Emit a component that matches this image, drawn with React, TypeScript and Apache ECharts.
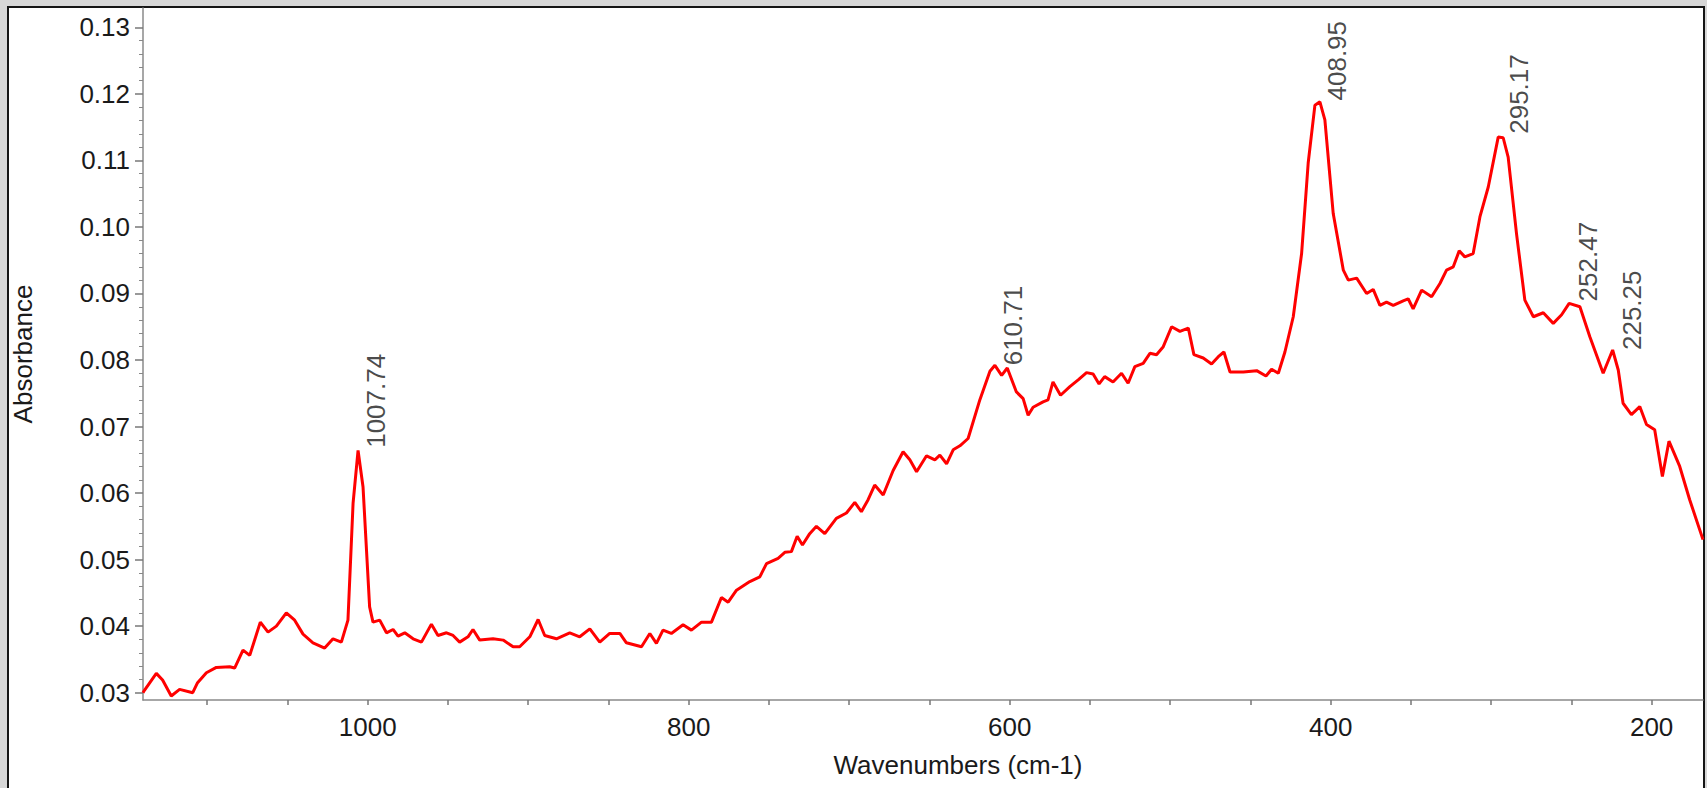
import React, { useEffect, useRef } from "react";
import * as echarts from "echarts";

// Spectrum trace: wavenumber (cm-1) and absorbance
const wavenumbers = [
  1140, 1139, 1131.7, 1127.8, 1122.4, 1117.2, 1109, 1106, 1100.5, 1094.3, 1086, 1082.9,
  1077.7, 1073.5, 1066.9, 1062.1, 1056.9, 1050.7, 1045.5, 1040.3, 1034.1, 1026.8, 1021.6,
  1016.4, 1012.3, 1009.1, 1006.0, 1002.9, 998.8, 996.7, 992.5, 988.3, 984.2, 981.1, 976.9,
  971.7, 966.5, 960.3, 956.2, 950.9, 946.8, 942.7, 937.5, 934.4, 930.2, 921.9, 915.6, 909.4,
  905.3, 899.0, 893.8, 889.7, 882.4, 874.1, 867.9, 861.6, 855.4, 849.2, 842.9, 838.8, 829.4,
  824.2, 820.1, 816.0, 810.8, 803.5, 798.3, 792.0, 785.8, 779.6, 775.4, 770.2, 761.9, 755.7,
  751.5, 744.3, 740.1, 736.0, 732.4, 729.1, 724.6, 720.4, 715.2, 708.0, 701.7, 696.5, 692.4,
  688.2, 684.1, 678.8, 672.6, 666.4, 662.2, 658.0, 651.8, 646.6, 643.5, 639.3, 635.2, 631.0,
  625.9, 618.6, 612.3, 609.2, 605.0, 601.5, 595.8, 591.6, 588.5, 585.4, 579.2, 576.1, 573.0,
  568.3, 562.5, 557.3, 552.1, 548.0, 544.3, 540.8, 535.6, 530.3, 526.2, 522.0, 516.8, 512.6,
  508.5, 504.3, 499.1, 493.9, 488.7, 485.2, 479.4, 474.2, 470.0, 466.5, 462.7, 454.4, 446.1,
  440.3, 436.8, 432.6, 428.5, 423.3, 418.1, 414.0, 409.8, 406.7, 403.6, 398.4, 392.1, 389.0,
  383.8, 377.6, 373.5, 369.3, 365.2, 361.0, 354.8, 351.7, 348.6, 343.3, 337.1, 331.9, 327.8,
  323.6, 319.9, 316.4, 311.2, 307.0, 301.8, 295.6, 292.5, 289.4, 284.2, 279.0, 273.7, 267.5,
  261.3, 256.1, 251.4, 244.7, 238.5, 230.2, 224.3, 220.8, 217.8, 212.6, 207.4, 203.2, 198.1,
  193.3, 189.2, 182.5, 176.3, 168.0,
];

const absorbance = [
  0.0300, 0.0304, 0.0329, 0.0319, 0.0295, 0.0305, 0.0300, 0.0315, 0.0330, 0.0338, 0.0339, 0.0337,
  0.0364, 0.0356, 0.0406, 0.0391, 0.0400, 0.0420, 0.0409, 0.0388, 0.0375, 0.0367, 0.0381,
  0.0376, 0.0409, 0.0585, 0.0664, 0.0609, 0.0429, 0.0406, 0.0409, 0.0390, 0.0395, 0.0385, 0.0390,
  0.0381, 0.0376, 0.0403, 0.0386, 0.0390, 0.0386, 0.0376, 0.0384, 0.0395, 0.0379, 0.0381, 0.0379, 0.0369,
  0.0369, 0.0384, 0.0410, 0.0386, 0.0381, 0.0390, 0.0384, 0.0396, 0.0376, 0.0389, 0.0389, 0.0375, 0.0369,
  0.0389, 0.0374, 0.0394, 0.0389, 0.0402, 0.0394, 0.0406, 0.0406, 0.0443, 0.0436, 0.0454, 0.0467, 0.0474,
  0.0494, 0.0502, 0.0511, 0.0512, 0.0535, 0.0522, 0.0539, 0.0550, 0.0539, 0.0562, 0.0570, 0.0586, 0.0572,
  0.0590, 0.0612, 0.0597, 0.0634, 0.0662, 0.0650, 0.0632, 0.0656, 0.0650, 0.0657, 0.0644, 0.0665, 0.0671,
  0.0682, 0.0740, 0.0783, 0.0792, 0.0777, 0.0788, 0.0752, 0.0742, 0.0717, 0.0729, 0.0737, 0.0740, 0.0767,
  0.0747, 0.0760, 0.0770, 0.0781, 0.0779, 0.0764, 0.0775, 0.0767, 0.0780, 0.0765, 0.0790, 0.0795, 0.0810,
  0.0808, 0.0820, 0.0850, 0.0843, 0.0848, 0.0808, 0.0803, 0.0794, 0.0805, 0.0812, 0.0782, 0.0782, 0.0784,
  0.0776, 0.0786, 0.0780, 0.0812, 0.0865, 0.0960, 0.1096, 0.1183, 0.1188, 0.1161, 0.1020, 0.0935, 0.0920,
  0.0923, 0.0900, 0.0906, 0.0882, 0.0887, 0.0882, 0.0889, 0.0892, 0.0877, 0.0905, 0.0895, 0.0915, 0.0935,
  0.0940, 0.0964, 0.0955, 0.0960, 0.1015, 0.1060, 0.1135, 0.1134, 0.1105, 0.0990, 0.0890, 0.0865, 0.0871,
  0.0855, 0.0868, 0.0885, 0.0880, 0.0835, 0.0780, 0.0815, 0.0785, 0.0735, 0.0718, 0.0730, 0.0703, 0.0695,
  0.0625, 0.0678, 0.0640, 0.0590, 0.0530,
];

// Peak annotations
const peakWavenumbers = [1007.74, 610.71, 408.95, 295.17, 252.47, 225.25];
const peakAbsorbance = [0.0668, 0.0792, 0.1190, 0.1140, 0.0888, 0.0815];

// Axis ticks
const xLabelValues = [1000, 800, 600, 400, 200];
const xTickValues = [1100, 1050, 1000, 950, 900, 850, 800, 750, 700, 650, 600, 550, 500, 450, 400, 350, 300, 250, 200];
const yLabelValues = [0.03, 0.04, 0.05, 0.06, 0.07, 0.08, 0.09, 0.1, 0.11, 0.12, 0.13];

const FONT = '"Liberation Sans", Arial, Helvetica, sans-serif';
const TEXT = "#1a1a1a";

export default function App() {
  const ref = useRef<HTMLDivElement>(null);

  useEffect(() => {
    document.body.style.margin = "0";
    if (!ref.current) return;
    const chart = echarts.init(ref.current, null, { renderer: "svg" });

    const yMinorTicks: number[] = [];
    for (let i = 0; i < yLabelValues.length - 1; i++) {
      for (let k = 1; k < 5; k++) {
        yMinorTicks.push(Math.round((yLabelValues[i] + k * 0.002) * 10000) / 10000);
      }
    }

    const line = wavenumbers.map((w, i) => [w, absorbance[i]]);
    const peaks = peakWavenumbers.map((w, i) => [w, peakAbsorbance[i]]);

    const axisLineStyle = { color: "#8a8a8a", width: 1.5 };

    chart.setOption({
      animation: false,
      backgroundColor: "transparent",
      textStyle: { fontFamily: FONT },
      grid: { left: 143, right: 4, top: 8, bottom: 88, containLabel: false },
      xAxis: {
        type: "value",
        inverse: true,
        min: 168,
        max: 1140,
        name: "Wavenumbers (cm-1)",
        nameLocation: "middle",
        nameGap: 52,
        nameTextStyle: { fontSize: 26, color: TEXT, fontFamily: FONT, padding: [0, 0, 0, 70] },
        axisLine: { show: true, lineStyle: axisLineStyle },
        axisTick: { show: true, customValues: xTickValues, length: 5, lineStyle: { color: "#777", width: 1.5 } },
        axisLabel: {
          customValues: xLabelValues,
          formatter: (v: number) => String(Math.round(v)),
          fontSize: 26,
          color: TEXT,
          fontFamily: FONT,
          margin: 14,
        },
        splitLine: { show: false },
      },
      yAxis: [
        {
          type: "value",
          min: 0.0289,
          max: 0.1329,
          position: "left",
          name: "Absorbance",
          nameLocation: "middle",
          nameRotate: 90,
          nameGap: 107,
          nameTextStyle: { fontSize: 26, color: TEXT, fontFamily: FONT },
          axisLine: { show: true, lineStyle: axisLineStyle },
          axisTick: { show: true, customValues: yLabelValues, length: 8, lineStyle: { color: "#777", width: 1.5 } },
          axisLabel: {
            customValues: yLabelValues,
            formatter: (v: number) => v.toFixed(2),
            fontSize: 26,
            color: TEXT,
            fontFamily: FONT,
            margin: 13,
          },
          splitLine: { show: false },
        },
        {
          type: "value",
          min: 0.0289,
          max: 0.1329,
          position: "left",
          axisLine: { show: false },
          axisTick: { show: true, customValues: yMinorTicks, length: 4, lineStyle: { color: "#888", width: 1 } },
          axisLabel: { show: false },
          splitLine: { show: false },
        },
      ],
      series: [
        {
          type: "line",
          data: line,
          yAxisIndex: 0,
          showSymbol: false,
          symbol: "none",
          smooth: false,
          lineStyle: { color: "#ff0000", width: 3 },
          z: 3,
        },
        {
          type: "scatter",
          data: peaks,
          yAxisIndex: 0,
          symbolSize: 1,
          itemStyle: { color: "rgba(0,0,0,0)" },
          label: {
            show: true,
            position: "right",
            distance: 20,
            rotate: 90,
            align: "left",
            verticalAlign: "middle",
            formatter: (p: any) => p.value[0].toFixed(2),
            fontSize: 26,
            color: TEXT,
            fontFamily: FONT,
          },
          z: 4,
        },
      ],
    });

    return () => chart.dispose();
  }, []);

  return (
    <div style={{ position: "relative", width: 1707, height: 788, background: "#d7d7d7", overflow: "hidden" }}>
      <div
        style={{
          position: "absolute",
          left: 7,
          top: 6,
          width: 1698,
          height: 800,
          border: "2.5px solid #151515",
          background: "#ffffff",
          boxSizing: "border-box",
        }}
      />
      <div ref={ref} style={{ position: "absolute", left: 0, top: 0, width: 1707, height: 788 }} />
    </div>
  );
}
